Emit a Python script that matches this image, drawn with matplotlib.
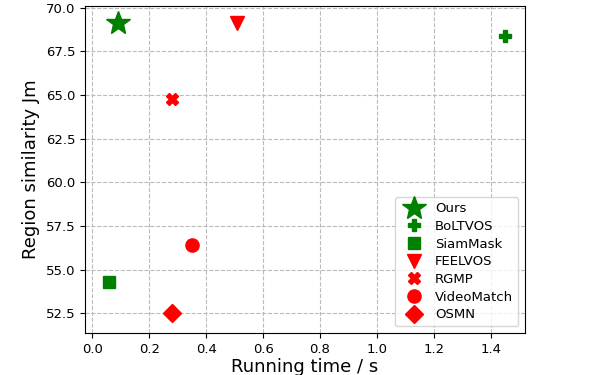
import matplotlib
matplotlib.use('Agg')
from matplotlib import pyplot as plt

methods = ['Ours', 'BoLTVOS', 'SiamMask', 'FEELVOS', 'RGMP', 'VideoMatch', 'OSMN']
run_time = [0.09, 1.45, 0.06, 0.51, 0.28, 0.35, 0.28]
similarity = [69.1, 68.4, 54.3, 69.1, 64.8, 56.4, 52.5]
colors = ['green', 'green', 'green', 'red', 'red', 'red', 'red']
markers = ['*', 'P', 's', 'v', 'X', 'o', 'D']
sizes = [18, 9, 9, 10, 9, 9.5, 9]

fig, ax = plt.subplots(figsize=(6, 3.75), dpi=100)
fig.subplots_adjust(left=0.142, right=0.875, top=0.984, bottom=0.112)

for name, x, y, c, m, s in zip(methods, run_time, similarity, colors, markers, sizes):
    ax.plot(x, y, linestyle='none', marker=m, color=c, markersize=s, label=name)

ax.set_xlim(-0.025, 1.52)
ax.set_ylim(51.37, 70.1)
ax.set_yticks([52.5, 55.0, 57.5, 60.0, 62.5, 65.0, 67.5, 70.0])
ax.set_xticks([0.0, 0.2, 0.4, 0.6, 0.8, 1.0, 1.2, 1.4])
ax.tick_params(labelsize=9.5)
ax.grid(color='#bbbbbb', linestyle='--', linewidth=0.8)
ax.set_axisbelow(True)
ax.set_xlabel('Running time / s', fontsize=13, labelpad=2)
ax.set_ylabel('Region similarity Jm', fontsize=13)
ax.legend(loc='lower right', fontsize=9.5, handletextpad=0.6, labelspacing=0.35)

fig.savefig('out.png', dpi=100)
